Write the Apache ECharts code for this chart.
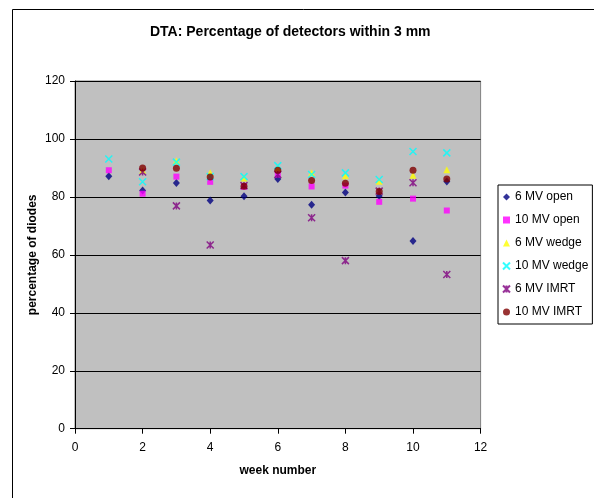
<!DOCTYPE html>
<html>
<head>
<meta charset="utf-8">
<script src="https://cdn.jsdelivr.net/npm/echarts@6/dist/echarts.min.js"></script>
<style>html,body{margin:0;padding:0;background:#fff}#c{width:594px;height:498px}</style>
</head>
<body>
<div id="c"></div>
<script>
var weeks = [1, 2, 3, 4, 5, 6, 7, 8, 9, 10, 11];
var seriesNames = ['6 MV open', '10 MV open', '6 MV wedge', '10 MV wedge', '6 MV IMRT', '10 MV IMRT'];
var mv6Open   = [87.1, 82.2, 84.8, 78.8, 80.2, 86.2, 77.3, 81.5, 80.3, 64.8, 85.3];
var mv10Open  = [89.2, 81.1, 87.0, 85.2, 83.5, 87.7, 83.6, 83.9, 78.3, 79.4, 75.3];
var mv6Wedge  = [null, 89.2, 92.5, 88.3, 86.5, 90.0, 88.3, 87.3, 85.4, 87.5, 89.4];
var mv10Wedge = [93.1, 85.2, 92.0, 87.0, 87.0, 90.8, 87.7, 88.3, 86.0, 95.7, 95.2];
var mv6Imrt   = [null, 88.6, 76.9, 63.4, 83.9, 87.7, 72.8, 58.0, 82.0, 84.9, 53.2];
var mv10Imrt  = [null, 90.0, 89.9, 86.9, 83.7, 89.2, 85.7, 84.7, 81.9, 89.2, 86.2];
var xTicks = [0, 2, 4, 6, 8, 10, 12];
var yTicks = [0, 20, 40, 60, 80, 100, 120];

function pairs(vals) {
  var out = [];
  for (var i = 0; i < weeks.length; i++) if (vals[i] != null) out.push([weeks[i], vals[i]]);
  return out;
}
var FONT = "'Liberation Sans', Arial, sans-serif";
var X_PATH = 'path://M0,0L10,10M10,0L0,10';
var STAR_PATH = 'path://M0,0L10,10M10,0L0,10M5,0L5,10';

var chart = echarts.init(document.getElementById('c'), null, {renderer: 'canvas'});
chart.setOption({
  animation: false,
  backgroundColor: '#ffffff',
  title: {
    text: 'DTA: Percentage of detectors within 3 mm',
    left: 150, top: 25, padding: 0,
    textStyle: {fontFamily: FONT, fontSize: 14, fontWeight: 'bold', color: '#000'}
  },
  graphic: [{
    type: 'rect', left: 10, top: 7, z: 100, silent: true,
    shape: {width: 620, height: 520},
    style: {fill: 'none', stroke: '#000', lineWidth: 1}
  }],
  grid: {
    left: 75, top: 81, right: 113.4, bottom: 69.3, containLabel: false,
    show: true, backgroundColor: '#C0C0C0', borderColor: '#808080', borderWidth: 1
  },
  legend: {
    orient: 'vertical', left: 498, top: 185,
    data: seriesNames,
    itemWidth: 7, itemHeight: 7, itemGap: 9, itemTextGap: 6,
    padding: [5, 4, 5, 4],
    borderColor: '#000', borderWidth: 1, backgroundColor: '#fff',
    textStyle: {fontFamily: FONT, fontSize: 12, color: '#000', lineHeight: 14}
  },
  xAxis: {
    type: 'value', min: 0, max: 12, interval: 2,
    name: 'week number', nameLocation: 'middle', nameGap: 36, nameMoveOverlap: false,
    nameTextStyle: {fontFamily: FONT, fontSize: 12, fontWeight: 'bold', color: '#000'},
    axisLine: {show: true, onZero: false, lineStyle: {color: '#000', width: 1}},
    axisTick: {show: true, length: 5, lineStyle: {color: '#000'}},
    axisLabel: {margin: 13, fontFamily: FONT, fontSize: 12, color: '#000',
      formatter: function (v) { return xTicks.indexOf(v) >= 0 ? String(v) : ''; }},
    splitLine: {show: false}
  },
  yAxis: {
    type: 'value', min: 0, max: 120, interval: 20,
    name: 'percentage of diodes', nameLocation: 'middle', nameGap: 36, nameMoveOverlap: false,
    nameTextStyle: {fontFamily: FONT, fontSize: 12, fontWeight: 'bold', color: '#000'},
    axisLine: {show: true, onZero: false, lineStyle: {color: '#000', width: 1}},
    axisTick: {show: true, length: 5, lineStyle: {color: '#000'}},
    axisLabel: {margin: 10, fontFamily: FONT, fontSize: 12, color: '#000',
      formatter: function (v) { return yTicks.indexOf(v) >= 0 ? String(v) : ''; }},
    splitLine: {show: true, lineStyle: {color: '#000', width: 1}}
  },
  series: [
    {name: seriesNames[0], type: 'scatter', data: pairs(mv6Open), symbol: 'diamond', symbolSize: [7, 8],
      itemStyle: {color: '#000080'}},
    {name: seriesNames[1], type: 'scatter', data: pairs(mv10Open), symbol: 'rect', symbolSize: 6,
      itemStyle: {color: '#FF00FF'}},
    {name: seriesNames[2], type: 'scatter', data: pairs(mv6Wedge), symbol: 'triangle', symbolSize: 7,
      itemStyle: {color: '#FFFF00'}},
    {name: seriesNames[3], type: 'scatter', data: pairs(mv10Wedge), symbol: X_PATH, symbolSize: 7,
      itemStyle: {color: 'rgba(0,0,0,0)', borderColor: '#00FFFF', borderWidth: 1.5}},
    {name: seriesNames[4], type: 'scatter', data: pairs(mv6Imrt), symbol: STAR_PATH, symbolSize: 7,
      itemStyle: {color: 'rgba(0,0,0,0)', borderColor: '#800080', borderWidth: 1.5}},
    {name: seriesNames[5], type: 'scatter', data: pairs(mv10Imrt), symbol: 'circle', symbolSize: 7,
      itemStyle: {color: '#800000'}}
  ]
});
</script>
</body>
</html>
